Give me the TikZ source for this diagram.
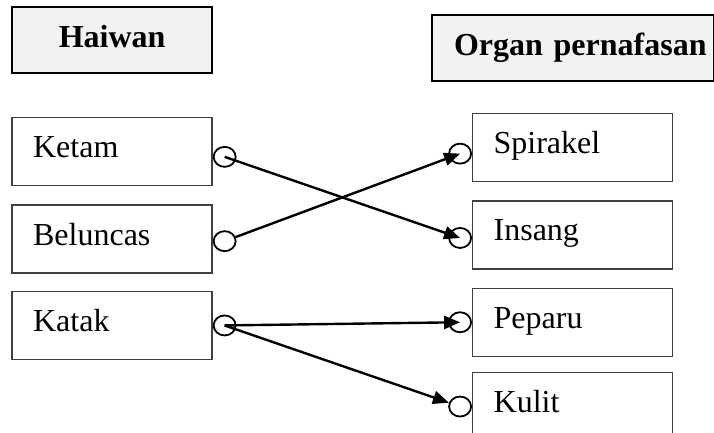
\documentclass[tikz,border=0pt]{standalone}
\usepackage{fontspec}
\setmainfont{Liberation Serif}
\usetikzlibrary{shapes.geometric, arrows.meta, positioning}
\tikzset{
header/.style = {rectangle, draw=black, line width=1.1pt, fill=black!5, inner xsep=10pt, inner ysep=0pt, text height=20pt, text depth=13pt, font=\fontsize{16}{19}\selectfont\bfseries},
item/.style = {rectangle, draw=black!75, line width=0.65pt, text width=79pt, inner xsep=10.5pt, inner ysep=0pt, text height=20pt, text depth=14pt, align=left, font=\fontsize{16}{19}\selectfont},
port/.style = {ellipse, draw=black, line width=0.9pt, minimum width=11pt, minimum height=10pt, inner sep=0pt},
arrow/.style = {line width=1.2pt, -{Triangle[length=8pt, width=6.5pt]}}
}
\begin{document}
\begin{tikzpicture}[x=0.5pt, y=-0.5pt]
\useasboundingbox (0,0) rectangle (714,433);

\node (haiwan) [header, text width=80pt, align=center, anchor=north west] at (11,6) {Haiwan};
\node (organ) [header, text width=136pt, inner xsep=2.5pt, align=left, anchor=north west] at (431,14) {\hspace*{8.5pt}\mbox{Organ pernafasan}};

\node (ketam) [item, below=21.5pt of haiwan] {Ketam};
\node (beluncas) [item, below=9pt of ketam] {Beluncas};
\node (katak) [item, below=8.5pt of beluncas] {Katak};

\node (spirakel) [item, anchor=north west] at (472,113) {Spirakel};
\node (insang) [item, below=9pt of spirakel] {Insang};
\node (peparu) [item, below=9pt of insang] {Peparu};
\node (kulit) [item, below=7.5pt of peparu] {Kulit};

\node (ketamport) [port, right=0pt of ketam, yshift=-2.5pt] {};
\node (beluncasport) [port, right=0pt of beluncas, yshift=-1pt] {};
\node (katakport) [port, right=0pt of katak] {};
\node (spirakelport) [port, left=0pt of spirakel, yshift=-3pt] {};
\node (insangport) [port, left=0pt of insang, yshift=-1.5pt] {};
\node (peparuport) [port, left=0pt of peparu] {};
\node (kulitport) [port, left=0pt of kulit] {};

\draw [arrow] (ketamport.center) -- (insangport.center);
\draw [arrow] (beluncasport) -- (spirakelport.center);
\draw [arrow] (katakport.center) -- (peparuport.center);
\draw [arrow] (katakport.center) -- (kulitport);

\end{tikzpicture}
\end{document}
